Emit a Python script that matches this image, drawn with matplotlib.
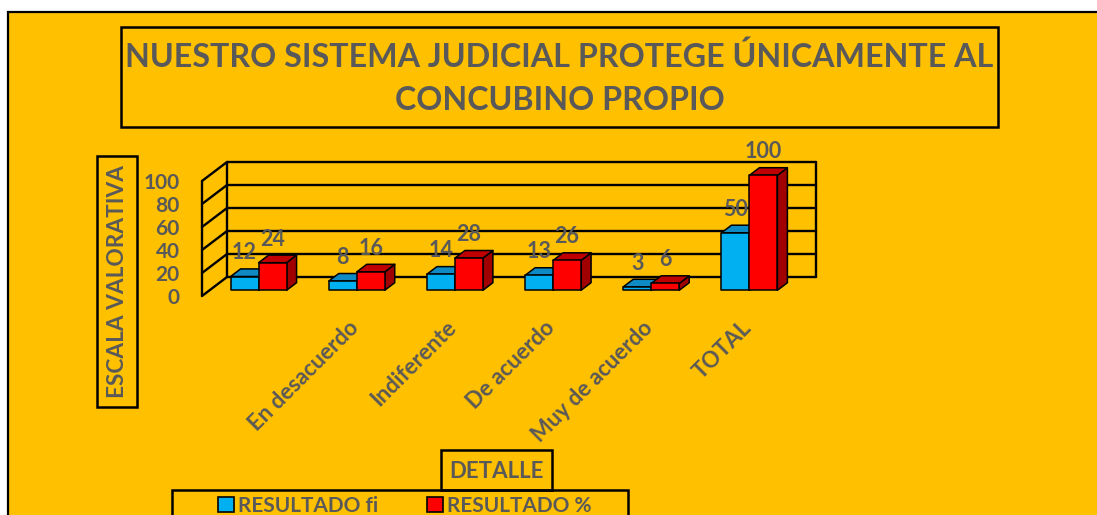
import matplotlib

matplotlib.use("Agg")
import matplotlib.pyplot as plt
from matplotlib.patches import Polygon, Rectangle, Patch
from matplotlib.transforms import ScaledTranslation

plt.rcParams["font.family"] = ["Lato", "DejaVu Sans"]
plt.rcParams["font.weight"] = "bold"

# -- data ------------------------------------------------------------------
categories = ["", "En desacuerdo", "Indiferente", "De acuerdo", "Muy de acuerdo", "TOTAL"]
resultado_fi = [12, 8, 14, 13, 3, 50]
resultado_pct = [24, 16, 28, 26, 6, 100]
y_ticks = [0, 20, 40, 60, 80, 100]
series_names = ["RESULTADO fi", "RESULTADO %"]

title_lines = ["NUESTRO SISTEMA JUDICIAL PROTEGE ÚNICAMENTE AL", "CONCUBINO PROPIO"]
y_title = "ESCALA VALORATIVA"
x_title = "DETALLE"

# -- style -----------------------------------------------------------------
W, H = 1097, 515
BG = "#FFC000"
TXT = "#595959"
CYAN, CYAN_TOP = "#00B0F0", "#0E8AC4"
RED, RED_TOP, RED_SIDE = "#FF0000", "#C00000", "#A00000"

# 3-D projection offsets (data units): full depth of the plot box
DX, DY = 0.2547, 16.5
BAR_D0, BAR_D = 0.3, 0.4      # bar starts at 30% depth, is 40% deep
BAR_W = 0.285

fig = plt.figure(figsize=(W / 100, H / 100), dpi=100, facecolor="white")


def fbox(x0, y0, x1, y1, z=1, **kw):
    """Rectangle given in pixel coords (top-left origin) on the figure."""
    r = Rectangle((x0 / W, 1 - y1 / H), (x1 - x0) / W, (y1 - y0) / H,
                  transform=fig.transFigure, zorder=z, **kw)
    fig.add_artist(r)
    return r


# orange chart area with border on top/left
fbox(8, 12, W + 20, H + 20, z=-10, facecolor=BG, edgecolor="black", lw=1.6)

# title box
fbox(121, 27, 998, 127, facecolor="none", edgecolor="black", lw=1.8)
for line, ypix in zip(title_lines, (57, 100)):
    fig.text(559.5 / W, 1 - ypix / H, line, ha="center", va="center", fontsize=23.2,
             color=TXT, fontweight="bold")

# y-axis title box
fbox(97, 156, 137, 407, facecolor="none", edgecolor="black", lw=1.8)
fig.text(117.5 / W, 1 - 281 / H, y_title, rotation=90, ha="center", va="center",
         fontsize=16.3, color=TXT, fontweight="bold")

# x-axis title box
fbox(441, 450, 552, 490, facecolor="none", edgecolor="black", lw=1.8)
fig.text(496.5 / W, 1 - 471 / H, x_title, ha="center", va="center",
         fontsize=16, color=TXT, fontweight="bold")

# legend box
fbox(172, 490, 628, H + 20, facecolor="none", edgecolor="black", lw=1.8)

# -- plot area (front plane) -----------------------------------------------
ax = fig.add_axes([202 / W, 1 - 296 / H, 589 / W, 115 / H])
ax.set_xlim(0, len(categories))
ax.set_ylim(0, 100)
ax.patch.set_visible(False)
for s in ax.spines.values():
    s.set_visible(False)

n = len(categories)
line_kw = dict(color="black", lw=1.7, clip_on=False, zorder=1, solid_capstyle="round")
for v in y_ticks:
    ax.plot([DX, n + DX], [v + DY, v + DY], **line_kw)   # back wall grid
    ax.plot([0, DX], [v, v + DY], **line_kw)             # side wall grid
ax.plot([0, 0], [0, 100], **line_kw)
ax.plot([DX, DX], [DY, 100 + DY], **line_kw)
ax.plot([n + DX, n + DX], [DY, 100 + DY], **line_kw)

ax.set_yticks(y_ticks)
ax.set_yticklabels([str(v) for v in y_ticks], fontsize=15, color=TXT, fontweight="bold")
ax.tick_params(axis="y", length=0, pad=16)

ox, oy = BAR_D0 * DX, BAR_D0 * DY
bx, by = BAR_D * DX, BAR_D * DY


def bar3d(x0, x1, v, front, top, side, z):
    poly_kw = dict(edgecolor="black", lw=1.1, clip_on=False, joinstyle="round")
    ax.add_patch(Polygon([(x1 + ox, oy), (x1 + ox + bx, oy + by),
                          (x1 + ox + bx, v + oy + by), (x1 + ox, v + oy)],
                         facecolor=side, zorder=z, **poly_kw))
    ax.add_patch(Polygon([(x0 + ox, v + oy), (x1 + ox, v + oy),
                          (x1 + ox + bx, v + oy + by), (x0 + ox + bx, v + oy + by)],
                         facecolor=top, zorder=z, **poly_kw))
    ax.add_patch(Polygon([(x0 + ox, oy), (x1 + ox, oy), (x1 + ox, v + oy), (x0 + ox, v + oy)],
                         facecolor=front, zorder=z + 0.1, **poly_kw))


label_kw = dict(textcoords="offset points", ha="center", va="center",
                fontsize=15.5, color=TXT, fontweight="bold", annotation_clip=False, zorder=5)
for i, (fi, pct) in enumerate(zip(resultado_fi, resultado_pct)):
    c = i + 0.5
    bar3d(c - BAR_W, c, fi, CYAN, CYAN_TOP, CYAN_TOP, 2 + i)
    bar3d(c, c + BAR_W, pct, RED, RED_TOP, RED_SIDE, 2.5 + i)
    ax.annotate(str(fi), (c - BAR_W / 2 + ox, fi + oy), xytext=(0, 17), **label_kw)
    ax.annotate(str(pct), (c + BAR_W / 2 + ox, pct + oy), xytext=(0, 17), **label_kw)

ax.set_xticks([i + 0.5 + ox for i in range(n)])
ax.set_xticklabels(categories, rotation=45, ha="right", rotation_mode="anchor",
                   fontsize=16, color=TXT, fontweight="bold")
ax.tick_params(axis="x", length=0, pad=15)
shift = ScaledTranslation(-9 / 100, 0, fig.dpi_scale_trans)
for lab in ax.get_xticklabels():
    lab.set_transform(lab.get_transform() + shift)

# legend
handles = [Patch(facecolor=CYAN, edgecolor="black", lw=1.2),
           Patch(facecolor=RED, edgecolor="black", lw=1.2)]
fig.legend(handles, series_names, loc="center", bbox_to_anchor=(405 / W, 1 - 506 / H),
           ncol=2, frameon=False, handlelength=0.75, handleheight=0.75,
           handletextpad=0.2, columnspacing=2.35, borderpad=0,
           prop={"weight": "bold", "size": 15})
for t in fig.legends[0].get_texts():
    t.set_color(TXT)

fig.savefig("out.png", dpi=100, facecolor="white")
